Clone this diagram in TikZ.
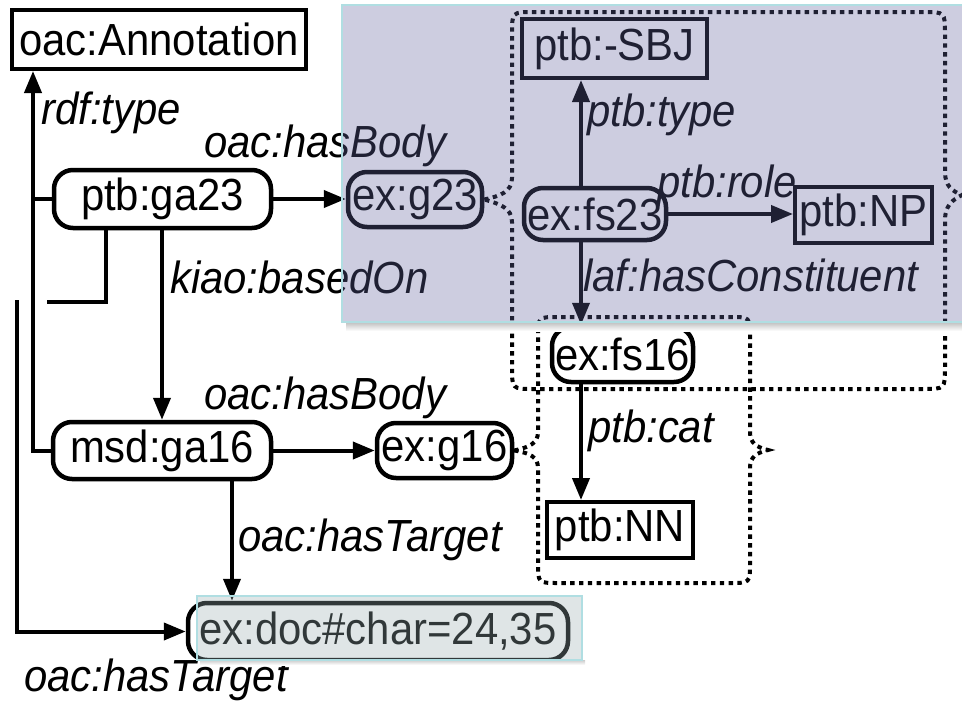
\documentclass[tikz,border=0pt]{standalone}
\usepackage{fontspec}
\setmainfont[FakeStretch=0.93]{Liberation Sans}
\usetikzlibrary{arrows.meta}
\definecolor{panelblue}{RGB}{98,100,160}
\definecolor{panelteal}{RGB}{154,175,178}
\definecolor{paneledge}{RGB}{176,222,226}

\begin{document}
\begin{tikzpicture}[x=1pt,y=-1pt,
  every node/.style={font=\fontsize{45}{52}\selectfont, inner sep=0pt},
  term/.style={draw, line width=4pt, rectangle},
  res/.style={draw, line width=4.5pt, rectangle, rounded corners=19pt},
  rel/.style={font=\fontsize{45}{52}\selectfont\itshape, anchor=base west},
  lnk/.style={line width=4pt},
  arr/.style={lnk, -{Triangle[length=22pt,width=17pt]}},
  grp/.style={line width=4pt, dash pattern=on 4.4pt off 4.4pt}]

\useasboundingbox (0,0) rectangle (962,704);

% resources and terms
\node[term, minimum width=294pt, minimum height=59pt] (ann) at (159,39.5) {oac:Annotation};
\node[res, minimum width=217pt, minimum height=58pt] (ga23) at (162.5,199) {ptb:ga23};
\node[res, minimum width=134pt, minimum height=55pt] (g23) at (415,199.5) {ex:g23};
\node[term, minimum width=185pt, minimum height=59pt] (sbj) at (614.5,48.5) {ptb:-SBJ};
\node[res, minimum width=142pt, minimum height=52pt] (fs23) at (595,214) {ex:fs23};
\node[term, minimum width=137pt, minimum height=56pt] (np) at (863.5,215) {ptb:NP};
\node[res, minimum width=141pt, minimum height=55pt] (fs16) at (622.5,354.5) {ex:fs16};
\node[term, minimum width=146pt, minimum height=56pt] (nn) at (620,530) {ptb:NN};
\node[res, minimum width=218pt, minimum height=57pt] (ga16) at (162,450.5) {msd:ga16};
\node[res, minimum width=135pt, minimum height=55pt] (g16) at (444.5,450.5) {ex:g16};
\node[res, minimum width=380pt, minimum height=57pt] (doc) at (378,631.5) {ex:doc\#char=24,35};

% routing columns
\coordinate (vx) at (33,0);
\coordinate (hx) at (106,0);
\coordinate (kx) at (162,0);
\coordinate (tx) at (232,0);
\coordinate (ax) at (581,0);
\coordinate (hop1) at (47,302);
\coordinate (hop2) at (17,300);

% rdf:type
\draw[arr] (ga16.west) -| (ann.south -| vx);
\draw[lnk] (ga23.west) -- (ga23.west -| vx);
\node[rel] (lt) at (41,124) {rdf:type};

% ptb:ga23
\draw[arr] (ga23.east) -- (g23.west |- ga23.east);
\node[rel] (lb1) at (204,157) {oac:hasBody};
\draw[arr] (ga23.south -| kx) -- (ga16.north -| kx);
\node[rel] (lk) at (170,293) {kiao:basedOn};
\draw[lnk] (ga23.south -| hx) |- (hop1);
\draw[arr] (hop2) |- (doc.west);
\node[rel] (lt2) at (24,691) {oac:hasTarget};

% msd:ga16
\draw[arr] (ga16.east) -- (g16.west |- ga16.east);
\node[rel] (lb2) at (204,409) {oac:hasBody};
\draw[arr] (ga16.south -| tx) -- (doc.north -| tx);
\node[rel] (lt1) at (238,551) {oac:hasTarget};

% feature structures
\draw[arr] (fs23.north -| ax) -- (sbj.south -| ax);
\node[rel] (lpt) at (587,126) {ptb:type};
\draw[arr] (fs23.east) -- (np.west |- fs23.east);
\node[rel] (lpr) at (657,197) {ptb:role};
\draw[arr] (fs23.south -| ax) -- (fs16.north -| ax);
\node[rel] (lhc) at (583,291) {laf:hasConstituent};
\draw[arr] (fs16.south -| ax) -- (nn.north -| ax);
\node[rel] (lpc) at (588,442) {ptb:cat};

% body groupings
\draw[grp] (g23.east) .. controls (500,196) and (512,192) .. (512,178)
  -- (512,34) .. controls (512,12) .. (534,12)
  -- (923,12) .. controls (945,12) .. (945,34)
  -- (945,172) .. controls (945,186) and (952,191) .. (962,195)
  .. controls (952,200) and (945,206) .. (945,220)
  -- (945,367) .. controls (945,389) .. (923,389)
  -- (534,389) .. controls (512,389) .. (512,367)
  -- (512,222) .. controls (512,208) and (500,204) .. (g23.east);

\draw[grp] (g16.east) .. controls (530,447) and (538,443) .. (538,432)
  -- (538,337) .. controls (538,317) .. (558,317)
  -- (730,317) .. controls (750,317) .. (750,337)
  -- (750,432) .. controls (750,443) and (756,447) .. (768,450)
  .. controls (756,453) and (750,457) .. (750,468)
  -- (750,563) .. controls (750,583) .. (730,583)
  -- (558,583) .. controls (538,583) .. (538,563)
  -- (538,468) .. controls (538,457) and (530,453) .. (g16.east);

% highlight panels
\shade[top color=black!25, bottom color=white] (346,322) rectangle (962,331);
\fill[panelblue, opacity=0.32] (342,5) rectangle (962,322);
\draw[paneledge, line width=1.5pt] (342,5) rectangle (964,322);

\shade[top color=black!20, bottom color=white] (200,660) rectangle (585,665);
\fill[panelteal, opacity=0.32] (197,596) rectangle (582,660);
\draw[paneledge, line width=1.2pt] (197,596) rectangle (582,660);
\end{tikzpicture}
\end{document}
